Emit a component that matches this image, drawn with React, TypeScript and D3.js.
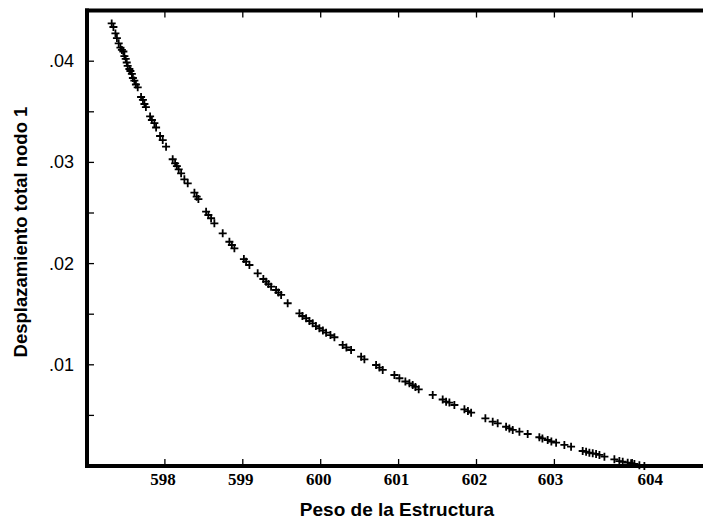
import React from "react";
import * as d3 from "d3";

// Peso de la Estructura (x) vs Desplazamiento total nodo 1 (y)
const pesoValues: number[] = [
  597.317, 597.339, 597.365, 597.384, 597.407, 597.429, 597.448, 597.467, 597.48, 597.497,
  597.51, 597.522, 597.544, 597.557, 597.576, 597.589, 597.608, 597.628, 597.651, 597.694,
  597.718, 597.737, 597.756, 597.81, 597.833, 597.865, 597.887, 597.938, 597.972, 598.015,
  598.1, 598.131, 598.154, 598.177, 598.208, 598.25, 598.293, 598.379, 598.408, 598.43,
  598.529, 598.558, 598.593, 598.635, 598.742, 598.828, 598.86, 598.892, 599.014, 599.042,
  599.085, 599.191, 599.264, 599.299, 599.329, 599.363, 599.427, 599.457, 599.492, 599.576,
  599.727, 599.765, 599.813, 599.855, 599.897, 599.938, 599.983, 600.028, 600.069, 600.125,
  600.176, 600.282, 600.33, 600.39, 600.519, 600.561, 600.711, 600.754, 600.796, 600.946,
  601.01, 601.087, 601.139, 601.181, 601.216, 601.258, 601.438, 601.566, 601.61, 601.652,
  601.716, 601.845, 601.89, 601.931, 602.114, 602.208, 602.272, 602.38, 602.422, 602.465,
  602.551, 602.657, 602.807, 602.846, 602.914, 602.961, 603.022, 603.128, 603.214, 603.363,
  603.407, 603.449, 603.492, 603.535, 603.578, 603.642, 603.77, 603.834, 603.877, 603.941,
  603.985, 604.027, 604.091, 604.155,
];
const desplazamientoValues: number[] = [
  0.04373, 0.04338, 0.04274, 0.04229, 0.04177, 0.04135, 0.04111, 0.04096, 0.04051, 0.04022,
  0.03987, 0.03953, 0.03923, 0.03903, 0.03874, 0.03834, 0.03809, 0.0377, 0.03742, 0.03646,
  0.03617, 0.03577, 0.03547, 0.03454, 0.03419, 0.03389, 0.03345, 0.03261, 0.03221, 0.03155,
  0.03031, 0.02991, 0.02964, 0.02932, 0.02892, 0.02833, 0.02793, 0.02701, 0.02661, 0.02638,
  0.02513, 0.0248, 0.02448, 0.02398, 0.02299, 0.02216, 0.02184, 0.02151, 0.02045, 0.02019,
  0.01986, 0.01904, 0.01848, 0.01821, 0.01798, 0.01772, 0.01739, 0.01714, 0.0169, 0.01608,
  0.01509, 0.01482, 0.0146, 0.01433, 0.0141, 0.01383, 0.01361, 0.01339, 0.01317, 0.01294,
  0.01272, 0.01196, 0.01171, 0.01146, 0.0108, 0.01054, 0.00998, 0.00973, 0.00949, 0.00899,
  0.00867, 0.00835, 0.00817, 0.008, 0.00781, 0.00758, 0.00702, 0.00657, 0.00635, 0.00627,
  0.00603, 0.0056, 0.00543, 0.00527, 0.00471, 0.00438, 0.00422, 0.00388, 0.00371, 0.00356,
  0.00339, 0.00316, 0.00284, 0.00272, 0.00257, 0.00242, 0.0023, 0.00208, 0.00191, 0.00148,
  0.00141, 0.00131, 0.00125, 0.00119, 0.00109, 0.00092, 0.00066, 0.00049, 0.00042, 0.00033,
  0.00027, 0.0002, 0.00007, 0.0,
];

const xTicks: number[] = [598, 599, 600, 601, 602, 603, 604];
const xTickLabels: string[] = ["598", "599", "600", "601", "602", "603", "604"];
const yTicks: number[] = [0.01, 0.02, 0.03, 0.04];
const yTickLabels: string[] = [".01", ".02", ".03", ".04"];
const yMinorTicks: number[] = [0.005, 0.015, 0.025, 0.035];
const xTitle = "Peso de la Estructura";
const yTitle = "Desplazamiento total nodo 1";

export default function App() {
  const W = 703;
  const H = 521;
  const left = 87;
  const bottom = 466;
  const top = 10.5;
  const x = d3.scaleLinear().domain([597, 605]).range([left, left + 8 * 77.9]);
  const y = d3.scaleLinear().domain([0, 0.045]).range([bottom, bottom - 0.045 * 10120]);

  const pts = pesoValues.map((v, i) => ({ x: v, y: desplazamientoValues[i] }));
  const tickLen = 7;
  const labelDx = (v: number) => (v === 604 ? 18 : v === 603 ? -4 : -2);

  return (
    <svg
      width={W}
      height={H}
      style={{ position: "absolute", left: 0, top: 0, background: "#fff" }}
    >
      <rect x={0} y={0} width={W} height={H} fill="#fff" />
      {/* markers */}
      <g stroke="#000" strokeWidth={1.8} fill="none">
        {pts.map((p, i) => (
          <path
            key={i}
            transform={`translate(${x(p.x)},${y(p.y)})`}
            d="M-4,0H4M0,-4V4"
          />
        ))}
      </g>
      {/* ticks */}
      <g stroke="#000" strokeWidth={1.3}>
        {xTicks.map((t) => (
          <line key={"b" + t} x1={x(t)} x2={x(t)} y1={bottom} y2={bottom - tickLen} />
        ))}
        {xTicks.map((t) => (
          <line key={"t" + t} x1={x(t)} x2={x(t)} y1={top} y2={top + tickLen} />
        ))}
        {yTicks.concat(yMinorTicks).map((t) => (
          <line key={"l" + t} x1={left} x2={left + tickLen} y1={y(t)} y2={y(t)} />
        ))}
      </g>
      {/* frame */}
      <g stroke="#000" strokeWidth={4} fill="none">
        <line x1={left} x2={left} y1={top - 2} y2={bottom + 2} />
        <line x1={left - 2} x2={W} y1={bottom} y2={bottom} />
        <line x1={left - 2} x2={W} y1={top} y2={top} />
      </g>
      {/* x tick labels */}
      <g
        fontFamily="'Liberation Serif', 'Times New Roman', serif"
        fontWeight="bold"
        fontSize={17}
        textAnchor="middle"
        fill="#000"
      >
        {xTicks.map((t, i) => (
          <text key={t} x={x(t) + labelDx(t)} y={485}>
            {xTickLabels[i]}
          </text>
        ))}
      </g>
      {/* y tick labels */}
      <g
        fontFamily="'Liberation Sans', Arial, sans-serif"
        fontSize={18}
        textAnchor="end"
        fill="#000"
      >
        {yTicks.map((t, i) => (
          <text key={t} x={74} y={y(t) + 6}>
            {yTickLabels[i]}
          </text>
        ))}
      </g>
      {/* axis titles */}
      <text
        x={397}
        y={516}
        textAnchor="middle"
        fontFamily="'Liberation Sans', Arial, sans-serif"
        fontWeight="bold"
        fontSize={19}
        fill="#000"
      >
        {xTitle}
      </text>
      <text
        transform="translate(27,232) rotate(-90)"
        textAnchor="middle"
        fontFamily="'Liberation Sans', Arial, sans-serif"
        fontWeight="bold"
        fontSize={18.5}
        fill="#000"
      >
        {yTitle}
      </text>
    </svg>
  );
}
